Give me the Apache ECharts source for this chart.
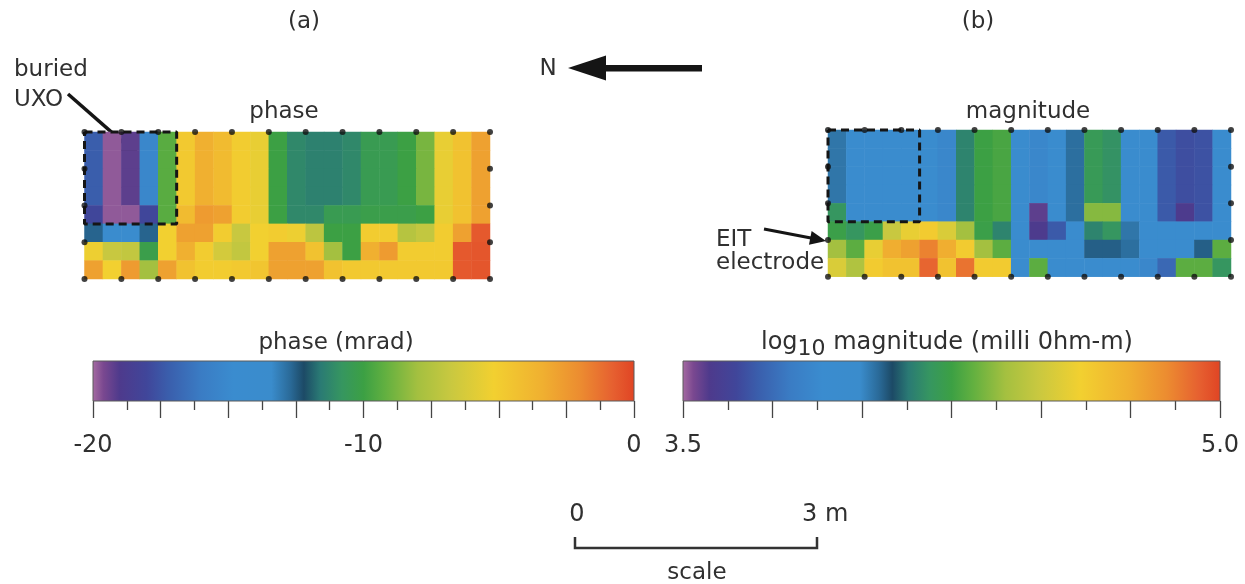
<!DOCTYPE html>
<html><head><meta charset="utf-8">
<script src="https://cdn.jsdelivr.net/npm/echarts@6/dist/echarts.min.js"></script>
<style>html,body{margin:0;padding:0;background:#fff}#c{width:1245px;height:584px}</style>
</head><body><div id="c"></div>
<script>
// ---------- data ----------
const colLabels = ['1','2','3','4','5','6','7','8','9','10','11','12','13','14','15','16','17','18','19','20','21','22'];
const rowLabels = ['1','2','3','4','5','6','7','8'];

// phase (mrad), rows top -> bottom
const phaseR1 = [-17.2,-19.8,-19.2,-15.2,-9.4,-4.8,-3.4,-4.0,-5.0,-5.6,-10.0,-11.2,-11.4,-11.4,-11.2,-10.4,-10.4,-10.0,-8.8,-5.6,-4.4,-2.8];
const phaseR2 = [-17.2,-19.8,-19.2,-15.2,-9.4,-4.8,-3.4,-4.0,-5.0,-5.6,-10.0,-11.2,-11.4,-11.4,-11.2,-10.4,-10.4,-10.0,-8.8,-5.6,-4.4,-2.8];
const phaseR3 = [-17.2,-19.8,-19.2,-15.2,-9.4,-4.8,-3.4,-4.0,-5.0,-5.6,-10.0,-11.2,-11.4,-11.4,-11.2,-10.4,-10.4,-10.0,-8.8,-5.6,-4.4,-2.8];
const phaseR4 = [-17.2,-19.8,-19.2,-15.2,-9.4,-4.8,-3.4,-4.0,-5.0,-5.6,-10.0,-11.2,-11.4,-11.4,-11.2,-10.4,-10.4,-10.0,-8.8,-5.6,-4.4,-2.8];
const phaseR5 = [-18.0,-19.8,-19.8,-18.0,-9.4,-4.0,-2.6,-2.8,-5.0,-5.6,-10.0,-11.2,-11.2,-10.4,-10.4,-10.2,-10.2,-10.2,-10.0,-5.6,-4.4,-2.8];
const phaseR6 = [-12.6,-14.4,-14.4,-12.6,-5.2,-2.8,-2.8,-5.0,-6.8,-5.2,-5.0,-5.4,-7.2,-10.0,-10.0,-5.0,-5.0,-7.4,-7.0,-5.0,-2.8,-0.6];
const phaseR7 = [-5.4,-6.8,-7.0,-10.2,-5.2,-3.4,-5.0,-6.4,-7.0,-5.2,-2.8,-2.8,-4.4,-8.0,-10.0,-3.4,-2.6,-5.0,-5.0,-5.0,-0.6,-0.5];
const phaseR8 = [-2.8,-5.2,-2.6,-8.0,-2.8,-4.4,-5.0,-5.0,-4.8,-4.6,-2.8,-2.8,-2.8,-4.4,-4.8,-4.8,-4.8,-4.8,-4.8,-4.8,-0.6,-0.5];

// log10 magnitude, rows top -> bottom
const magR1 = [4.03,3.92,3.92,3.92,3.92,3.92,3.86,4.15,4.25,4.27,3.92,3.86,3.92,4.04,4.21,4.18,3.92,3.92,3.70,3.67,3.68,3.92];
const magR2 = [4.03,3.92,3.92,3.92,3.92,3.92,3.86,4.15,4.25,4.27,3.92,3.86,3.92,4.04,4.21,4.18,3.92,3.92,3.70,3.67,3.68,3.92];
const magR3 = [4.03,3.92,3.92,3.92,3.92,3.92,3.86,4.15,4.25,4.27,3.92,3.86,3.92,4.04,4.21,4.18,3.92,3.92,3.70,3.67,3.68,3.92];
const magR4 = [4.03,3.92,3.92,3.92,3.92,3.92,3.86,4.15,4.25,4.27,3.92,3.86,3.92,4.04,4.21,4.18,3.92,3.92,3.70,3.67,3.68,3.92];
const magR5 = [4.19,3.92,3.92,3.92,3.92,3.92,3.86,4.15,4.25,4.27,3.92,3.56,3.92,4.04,4.36,4.36,3.92,3.92,3.70,3.58,3.68,3.92];
const magR6 = [4.24,4.19,4.24,4.49,4.58,4.63,4.54,4.40,4.24,4.15,3.92,3.58,3.70,3.92,4.15,4.19,4.03,3.92,3.92,3.92,3.92,3.92];
const magR7 = [4.40,4.30,4.58,4.75,4.79,4.87,4.75,4.63,4.40,4.30,3.92,3.92,3.92,3.92,4.06,4.06,4.04,3.92,3.92,3.92,4.06,4.30];
const magR8 = [4.54,4.43,4.63,4.67,4.67,4.93,4.67,4.90,4.63,4.63,3.92,4.30,3.92,3.92,3.92,3.92,3.92,3.86,3.74,4.30,4.30,4.19];

const phaseRange = [-20, 0];
const magRange = [3.5, 5.0];
const phaseTickLabels = ['-20', '-10', '0'];
const magTickLabels = ['3.5', '5.0'];

// electrode positions (grid units) and UXO box
const electrodeX = [0,2,4,6,8,10,12,14,16,18,20,22];
const electrodeY = [0,2,4,6,8];
const uxoBoxX = [0, 5];
const uxoBoxY = [3, 8];

// ---------- colour map ----------
const cmapStops = [
  [0.000,'#a66ca2'],[0.020,'#7a4890'],[0.050,'#4e3a8c'],[0.100,'#40469a'],
  [0.140,'#3a5eac'],[0.200,'#3a7cc4'],[0.260,'#3a8ccf'],[0.330,'#3a8ccc'],
  [0.365,'#2a6a98'],[0.390,'#1c4a66'],[0.420,'#2a7a74'],[0.460,'#369660'],
  [0.500,'#3ca044'],[0.540,'#62b040'],[0.600,'#a4c040'],[0.660,'#c8c840'],
  [0.740,'#f2d030'],[0.830,'#f0b030'],[0.900,'#ec8c30'],[0.960,'#e66030'],
  [1.000,'#e04424']
];
function hex2rgb(h){return [parseInt(h.slice(1,3),16),parseInt(h.slice(3,5),16),parseInt(h.slice(5,7),16)];}
function cmapAt(f){
  for(let i=1;i<cmapStops.length;i++){
    if(f<=cmapStops[i][0]){
      const [f0,c0]=cmapStops[i-1],[f1,c1]=cmapStops[i];
      const t=(f-f0)/(f1-f0), a=hex2rgb(c0), b=hex2rgb(c1);
      return 'rgb('+a.map((v,k)=>Math.round(v+(b[k]-v)*t)).join(',')+')';
    }
  }
  return cmapStops[cmapStops.length-1][1];
}
const palette = [];
for(let i=0;i<=200;i++) palette.push(cmapAt(i/200));
const gradStops = cmapStops.map(s=>({offset:s[0], color:s[1]}));

function toCells(rows){
  const out=[];
  rows.forEach((r,ri)=>r.forEach((v,ci)=>out.push([ci,ri,v])));
  return out;
}
const phaseCells = toCells([phaseR1,phaseR2,phaseR3,phaseR4,phaseR5,phaseR6,phaseR7,phaseR8]);
const magCells = toCells([magR1,magR2,magR3,magR4,magR5,magR6,magR7,magR8]);

const electrodes = [];
electrodeX.forEach(x=>{electrodes.push([x,0]);electrodes.push([x,8]);});
electrodeY.forEach(y=>{if(y>0&&y<8){electrodes.push([0,y]);electrodes.push([22,y]);}});
const boxLine = [[uxoBoxX[0],uxoBoxY[1]],[uxoBoxX[1],uxoBoxY[1]],[uxoBoxX[1],uxoBoxY[0]],[uxoBoxX[0],uxoBoxY[0]],[uxoBoxX[0],uxoBoxY[1]]];

// ---------- layout ----------
const FONT = '"DejaVu Sans", Verdana, sans-serif';
const TXT = '#303030';
const G_PH = {left:84.5, top:132, width:405.5, height:147};
const G_MG = {left:828, top:130, width:403, height:146.7};
const G_CBP = {left:93, top:361, width:541, height:40};
const G_CBM = {left:683, top:361, width:537, height:40};

function hiddenCat(grid,data,inverse){return {type:'category',gridIndex:grid,data:data,inverse:!!inverse,show:false,boundaryGap:true};}
function hiddenVal(grid,min,max){return {type:'value',gridIndex:grid,min:min,max:max,show:false};}
function cbAxis(grid,range,interval,labels){
  return {type:'value',gridIndex:grid,min:range[0],max:range[1],interval:interval,position:'bottom',
    axisLine:{show:false},splitLine:{show:false},
    axisTick:{show:true,length:17,lineStyle:{color:'#444',width:1.3}},
    minorTick:{show:true,splitNumber:2,length:9,lineStyle:{color:'#444',width:1.3}},
    axisLabel:{show:true,margin:33,fontFamily:FONT,fontSize:24,color:TXT,
      formatter:function(v){const s=labels.find(l=>Math.abs(parseFloat(l)-v)<1e-6);return s===undefined?'':s;}}};
}
function colorbarRender(params, api){
  const p0 = api.coord([api.value(0), 1]);
  const p1 = api.coord([api.value(1), 0]);
  return {type:'rect',shape:{x:p0[0],y:p0[1],width:p1[0]-p0[0],height:p1[1]-p0[1]},
    style:{fill:new echarts.graphic.LinearGradient(0,0,1,0,gradStops),stroke:'#5a5a5a',lineWidth:1}};
}
function txt(text,x,y,align,size){
  return {type:'text',x:x,y:y,silent:true,style:{text:text,font:(size||23)+'px '+FONT,fill:TXT,
    align:align||'center',verticalAlign:'middle',textAlign:align||'center',textVerticalAlign:'middle'}};
}
function arrow(x0,y0,x1,y1,w,hl,hw,color){
  const dx=x1-x0,dy=y1-y0,L=Math.hypot(dx,dy),ux=dx/L,uy=dy/L,px=-uy,py=ux;
  const bx=x1-ux*hl,by=y1-uy*hl;
  return [
    {type:'line',silent:true,shape:{x1:x0,y1:y0,x2:bx+ux*2,y2:by+uy*2},style:{stroke:color,lineWidth:w}},
    {type:'polygon',silent:true,shape:{points:[[x1,y1],[bx+px*hw,by+py*hw],[bx-px*hw,by-py*hw]]},style:{fill:color}}
  ];
}

const chart = echarts.init(document.getElementById('c'), null, {renderer:'canvas'});
chart.setOption({
  animation:false,
  backgroundColor:'#ffffff',
  grid:[
    Object.assign({},G_PH),Object.assign({},G_PH),
    Object.assign({},G_MG),Object.assign({},G_MG),
    Object.assign({},G_CBP),Object.assign({},G_CBM)
  ],
  xAxis:[hiddenCat(0,colLabels),hiddenVal(1,0,22),hiddenCat(2,colLabels),hiddenVal(3,0,22),
    cbAxis(4,phaseRange,2.5,phaseTickLabels),cbAxis(5,magRange,0.25,magTickLabels)],
  yAxis:[hiddenCat(0,rowLabels,true),hiddenVal(1,0,8),hiddenCat(2,rowLabels,true),hiddenVal(3,0,8),
    hiddenVal(4,0,1),hiddenVal(5,0,1)],
  visualMap:[
    {type:'continuous',show:false,min:phaseRange[0],max:phaseRange[1],seriesIndex:0,dimension:2,inRange:{color:palette}},
    {type:'continuous',show:false,min:magRange[0],max:magRange[1],seriesIndex:1,dimension:2,inRange:{color:palette}}
  ],
  series:[
    {type:'heatmap',xAxisIndex:0,yAxisIndex:0,data:phaseCells,itemStyle:{borderWidth:0},emphasis:{disabled:true}},
    {type:'heatmap',xAxisIndex:2,yAxisIndex:2,data:magCells,itemStyle:{borderWidth:0},emphasis:{disabled:true}},
    {type:'line',xAxisIndex:1,yAxisIndex:1,data:boxLine,symbol:'none',clip:false,z:4,silent:true,
      lineStyle:{color:'#151515',width:3,type:[8,5]}},
    {type:'line',xAxisIndex:3,yAxisIndex:3,data:boxLine,symbol:'none',clip:false,z:4,silent:true,
      lineStyle:{color:'#151515',width:3,type:[8,5]}},
    {type:'scatter',xAxisIndex:1,yAxisIndex:1,data:electrodes,symbol:'circle',symbolSize:6,clip:false,z:5,silent:true,
      itemStyle:{color:'#111'}},
    {type:'scatter',xAxisIndex:3,yAxisIndex:3,data:electrodes,symbol:'circle',symbolSize:6,clip:false,z:5,silent:true,
      itemStyle:{color:'#111'}},
    {type:'custom',xAxisIndex:4,yAxisIndex:4,data:[phaseRange],renderItem:colorbarRender,clip:false,silent:true,
      encode:{x:[0,1]}},
    {type:'custom',xAxisIndex:5,yAxisIndex:5,data:[magRange],renderItem:colorbarRender,clip:false,silent:true,
      encode:{x:[0,1]}}
  ],
  graphic:[].concat(
    [txt('(a)',304,22),txt('(b)',978,22),
     txt('buried',14,70,'left'),txt('UXO',14,100,'left'),
     txt('phase',284,112),txt('magnitude',1028,112),
     txt('N',548,69),
     txt('EIT',716,240,'left'),txt('electrode',716,263,'left'),
     txt('phase (mrad)',336,343),
     {type:'text',x:947,y:343,silent:true,style:{
        text:'{n|log}{s|10}{n| magnitude (milli 0hm-m)}',
        align:'center',verticalAlign:'middle',textAlign:'center',textVerticalAlign:'middle',
        rich:{n:{fontFamily:FONT,fontSize:24,color:TXT,fill:TXT},
              s:{fontFamily:FONT,fontSize:22,color:TXT,fill:TXT,padding:[12,0,0,0]}}}},
     txt('0',577,515,'center',24),txt('3 m',802,515,'left',24),
     txt('scale',697,573),
     {type:'polyline',silent:true,shape:{points:[[575,537],[575,548],[817,548],[817,537]]},
       style:{stroke:'#333',lineWidth:2.5,fill:null}},
     {type:'rect',silent:true,shape:{x:600,y:65,width:102,height:6.5},style:{fill:'#151515'}},
     {type:'polygon',silent:true,shape:{points:[[568,68],[606,55.5],[606,80.5]]},style:{fill:'#151515'}}
    ],
    arrow(68,94,141,158,3.5,20,8,'#151515'),
    arrow(764,229,826,241,3,16,7,'#151515')
  )
});
</script></body></html>
